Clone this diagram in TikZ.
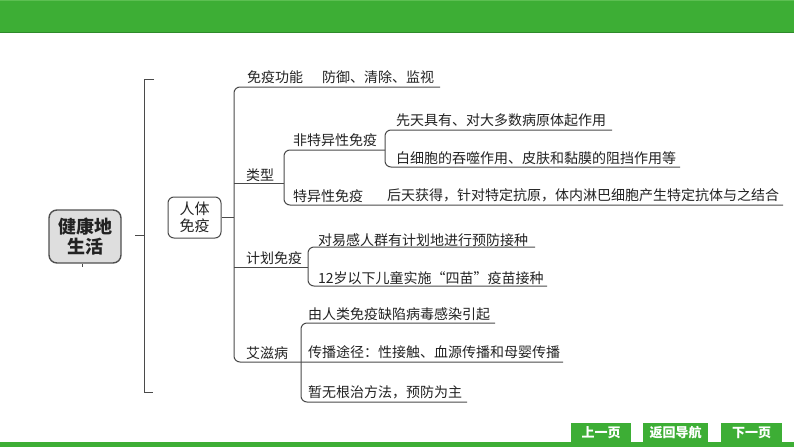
\documentclass[tikz,border=0pt]{standalone}
\usepackage{fontspec}
\setmainfont{Noto Sans CJK SC}
\definecolor{greenA}{HTML}{3DAE35}
\definecolor{greenB}{HTML}{2E8A2A}
\definecolor{greenC}{HTML}{5CBF52}
\definecolor{linegray}{HTML}{4A4A4A}
\definecolor{textgray}{HTML}{222222}
\definecolor{boxfill}{HTML}{DEDEDE}
\definecolor{boxborder}{HTML}{505050}
\begin{document}
\begin{tikzpicture}[x=1pt,y=-1pt,
  ln/.style={draw=linegray, line width=1pt, rounded corners=6pt},
  txt/.style={anchor=base west, inner sep=0pt, font=\fontsize{14}{16}\selectfont, text=textgray},
  btn/.style={fill=greenA, text=white, font=\fontsize{13}{15}\selectfont\bfseries, inner sep=0pt, minimum height=19pt, anchor=north west}]
\useasboundingbox (0,0) rectangle (794,447);
% top bar
\fill[greenA] (0,0) rectangle (794,32);
\draw[greenC, line width=1pt] (0,0.5) -- (794,0.5);
\draw[greenB, line width=1pt] (0,32) -- (794,32);
% bottom strip
\fill[greenA] (0,442) rectangle (794,447);
% buttons
\node[btn, minimum width=60pt] (prev) at (571,423) {上一页};
\node[btn, minimum width=65pt] (home) at (643,423) {返回导航};
\node[btn, minimum width=61pt] (next) at (721,423) {下一页};

% main box
\node[draw=boxborder, fill=boxfill, rounded corners=8pt, line width=1.4pt, minimum width=72pt, minimum height=53pt, align=center, inner sep=0pt, text=textgray, font=\fontsize{18}{20}\selectfont\bfseries] (main) at (85,236.5) {健康地\\生活};
\draw[linegray, line width=1pt] (main.south) ++(-3,0) -- ++(0,3);
% bracket
\draw[ln, rounded corners=0pt] (154,79) -- (144,79) -- (144,392) -- (153,392);
\draw[ln] (144,235.5) -- (135,235.5);
% rentimianyi box
\node[draw=linegray, line width=1pt, rounded corners=6pt, minimum width=53pt, minimum height=41pt, align=center, inner sep=0pt, text=textgray, font=\fontsize{15}{17}\selectfont] (rt) at (194.5,217.5) {人体\\免疫};
\coordinate (trunk) at (234,217.5);
\draw[ln] (rt.east) -- (trunk);

% texts
\node[txt] (fn) at (247,82) {免疫功能};
\node[txt] (fnv) at (322,82) {防御、清除、监视};
\node[txt] (lx) at (246,180) {类型};
\node[txt] (ft) at (293,145) {非特异性免疫};
\node[txt] (ft1) at (396,125) {先天具有、对大多数病原体起作用};
\node[txt] (ft2) at (396,163) {白细胞的吞噬作用、皮肤和黏膜的阻挡作用等};
\node[txt] (ty) at (293,201) {特异性免疫};
\node[txt] (ty1) at (387,200) {后天获得，针对特定抗原，体内淋巴细胞产生特定抗体与之结合};
\node[txt] (jh) at (246,263) {计划免疫};
\node[txt] (jh1) at (318,245) {对易感人群有计划地进行预防接种};
\node[txt] (jh2) at (318,283) {12岁以下儿童实施“四苗”疫苗接种};
\node[txt] (az) at (246,358) {艾滋病};
\node[txt] (az1) at (308,319) {由人类免疫缺陷病毒感染引起};
\node[txt] (az2) at (308,357) {传播途径：性接触、血源传播和母婴传播};
\node[txt] (az3) at (308,397) {暂无根治方法，预防为主};

% tree lines
\draw[ln] (440,87) -- (234,87) -- (234,362) -- (563,362);
\draw[ln] (234,183) -- (284,183);
\draw[ln] (385,150) -- (284,150) -- (284,205) -- (783,205);
\draw[ln] (612,130) -- (385,130) -- (385,167) -- (680,167);
\draw[ln] (234,267) -- (308,267);
\draw[ln] (535,247) -- (308,247) -- (308,286) -- (547,286);
\draw[ln] (495,323) -- (301,323) -- (301,402) -- (467,402);
\end{tikzpicture}
\end{document}
